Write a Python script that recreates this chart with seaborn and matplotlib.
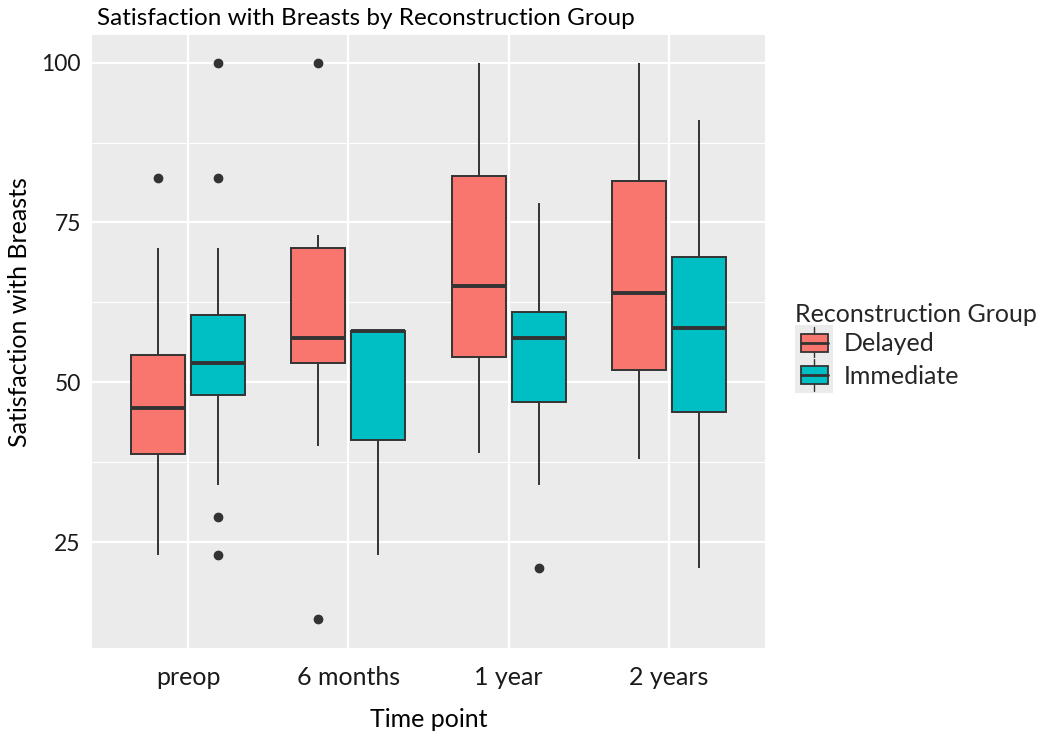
import pandas as pd
import seaborn as sns
import matplotlib.pyplot as plt
from matplotlib.legend_handler import HandlerBase
from matplotlib.patches import Rectangle
from matplotlib.lines import Line2D

time_points = ['preop', '6 months', '1 year', '2 years']
groups = ['Delayed', 'Immediate']
colors = ['#F8766D', '#00BFC4']

preop_delayed = [23, 38.8, 38.8, 46, 46, 54.3, 54.3, 71, 82]
preop_immediate = [23, 29, 34, 48, 48, 53, 53, 53, 60.6, 60.6, 71, 82, 100]
months6_delayed = [13, 40, 53, 57, 57, 71, 71, 73, 100]
months6_immediate = [23, 41, 58, 58, 58]
year1_delayed = [39, 54, 65, 82.2, 100]
year1_immediate = [21, 34, 47, 47, 57, 61, 61, 78, 78]
year2_delayed = [38, 52, 64, 81.5, 100]
year2_immediate = [21, 45.4, 58.5, 69.6, 91]

y_ticks = [25, 50, 75, 100]
y_minor = [37.5, 62.5, 87.5]


def build_frame():
    rows = []
    sets = {
        ('preop', 'Delayed'): preop_delayed,
        ('preop', 'Immediate'): preop_immediate,
        ('6 months', 'Delayed'): months6_delayed,
        ('6 months', 'Immediate'): months6_immediate,
        ('1 year', 'Delayed'): year1_delayed,
        ('1 year', 'Immediate'): year1_immediate,
        ('2 years', 'Delayed'): year2_delayed,
        ('2 years', 'Immediate'): year2_immediate,
    }
    for (tp, grp), vals in sets.items():
        for v in vals:
            rows.append({'Time point': tp, 'Reconstruction Group': grp,
                         'Satisfaction with Breasts': v})
    return pd.DataFrame(rows)


class BoxKey(HandlerBase):
    # ggplot-like legend key: grey square with a small box glyph
    def create_artists(self, legend, orig_handle, xdescent, ydescent,
                       width, height, fontsize, trans):
        fc = orig_handle.get_facecolor()
        bg = Rectangle((-xdescent, -ydescent - 2), width, height + 4,
                       facecolor='#EBEBEB', edgecolor='none', transform=trans)
        bw = width * 0.72
        x0 = -xdescent + (width - bw) / 2
        bh = height * 0.62
        y0 = -ydescent + (height - bh) / 2
        box = Rectangle((x0, y0), bw, bh, facecolor=fc, edgecolor='#333333',
                        lw=1.3, transform=trans)
        xm = -xdescent + width / 2
        med = Line2D([x0, x0 + bw], [y0 + bh / 2] * 2, color='#333333', lw=2,
                     transform=trans)
        wh1 = Line2D([xm, xm], [y0 + bh, -ydescent + height + 1],
                     color='#333333', lw=1, transform=trans)
        wh2 = Line2D([xm, xm], [-ydescent - 1, y0], color='#333333', lw=1,
                     transform=trans)
        return [bg, box, med, wh1, wh2]


def main():
    df = build_frame()

    sns.set_theme(style='darkgrid')
    plt.rcParams['font.family'] = ['Lato', 'DejaVu Sans']

    fig = plt.figure(figsize=(10.5, 7.36), dpi=100)
    ax = fig.add_axes([0.0876, 0.1196, 0.6410, 0.8328])
    ax.set_facecolor('#EBEBEB')

    sns.boxplot(data=df, x='Time point', y='Satisfaction with Breasts',
                hue='Reconstruction Group', order=time_points, hue_order=groups,
                palette=colors, width=0.75, gap=0.1, saturation=1, ax=ax,
                linecolor='#333333', linewidth=1.4, showcaps=False,
                medianprops={'linewidth': 2.8},
                flierprops={'marker': 'o', 'markersize': 6,
                            'markerfacecolor': '#333333',
                            'markeredgecolor': '#333333'})

    ax.set_xlim(-0.6, 3.6)
    ax.set_ylim(8.5, 104.3)
    ax.set_yticks(y_ticks)
    ax.set_yticks(y_minor, minor=True)
    ax.grid(True, which='major', color='white', linewidth=1.6)
    ax.grid(True, which='minor', axis='y', color='white', linewidth=0.8)
    ax.set_axisbelow(True)
    for s in ax.spines.values():
        s.set_visible(False)

    ax.tick_params(axis='both', which='major', length=4, width=1,
                   color='#333333', labelcolor='#1a1a1a')
    ax.tick_params(axis='x', which='major', labelsize=18, pad=9)
    ax.tick_params(axis='y', which='major', labelsize=16.5, pad=4)
    ax.tick_params(axis='both', which='minor', length=0)

    ax.set_xlabel('Time point', fontsize=18, color='black', labelpad=14)
    ax.set_ylabel('Satisfaction with Breasts', fontsize=18, color='black')
    ax.yaxis.set_label_coords(-0.09, 0.548)
    ax.set_title('Satisfaction with Breasts by Reconstruction Group',
                 fontsize=17.5, loc='left', x=0.008, pad=7, color='black')

    handles, labels = ax.get_legend_handles_labels()
    ax.legend(handles, labels, title='Reconstruction Group',
              handler_map={h: BoxKey() for h in handles},
              loc='center left', bbox_to_anchor=(1.045, 0.492),
              frameon=False, fontsize=18, title_fontsize=18,
              handlelength=1.5, handleheight=1.45, labelspacing=0.1,
              handletextpad=0.45, alignment='left', borderaxespad=0,
              borderpad=0)

    fig.savefig('out.png', dpi=100)
    plt.close(fig)


if __name__ == '__main__':
    main()
